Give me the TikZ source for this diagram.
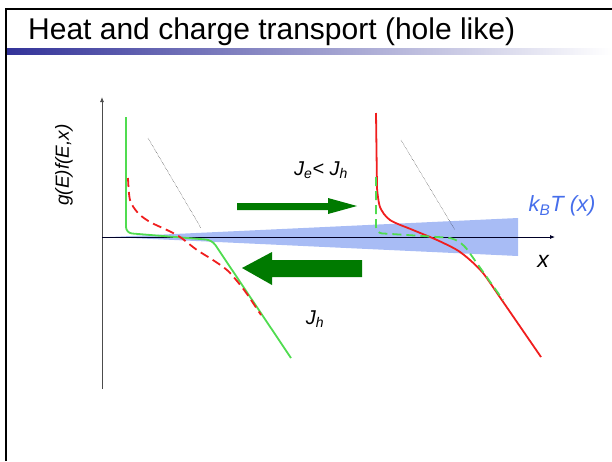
\documentclass[tikz,border=0pt]{standalone}
\usepackage{fontspec}
\setmainfont{Liberation Sans}
\usetikzlibrary{positioning, arrows.meta, calc}
\definecolor{titleblue}{RGB}{51,51,153}
\definecolor{bandblue}{RGB}{168,188,245}
\definecolor{kbblue}{RGB}{70,110,235}
\definecolor{curvegreen}{RGB}{80,220,80}
\definecolor{arrowgreen}{RGB}{0,122,0}
\definecolor{curvered}{RGB}{240,30,30}

\begin{document}
\begin{tikzpicture}[x=1pt, y=-1pt,
    lbl/.style={inner sep=0pt, font=\fontsize{20}{22}\selectfont\itshape},
    axis/.style={line width=0.8pt, -{Latex[length=5pt,width=4pt]}},
    greenline/.style={curvegreen, line width=1.8pt},
    redline/.style={curvered, line width=1.8pt},
    guide/.style={line width=0.4pt, densely dotted}]
    \useasboundingbox (0,0) rectangle (612,461);

    \draw[line width=2pt] (6,461) -- (6,9) -- (612,9);
    \shade[left color=titleblue, right color=white] (7,48) rectangle (612,54);
    \node[anchor=base west, inner sep=0pt, font=\fontsize{30}{32}\selectfont] (title) at (28,39) {Heat and charge transport (hole like)};

    \coordinate (o) at (102,237);
    \coordinate (ytop) at (102,97);
    \coordinate (ybot) at (102,389);
    \coordinate (xend) at (555,237);

    \fill[bandblue] (110,237) -- (518,218) -- (518,256) -- cycle;
    \draw[axis, black!70] (ybot) -- (ytop);
    \draw[axis, black!85!blue] (o) -- (xend);

    \node[lbl, rotate=90, font=\fontsize{19}{20}\selectfont\itshape] (ylabel) at (64,165) {g(E)f(E,x)};
    \node[lbl, font=\fontsize{23}{24}\selectfont\itshape] (xlabel) at (543,261) {x};
    \node[lbl, kbblue, font=\fontsize{22}{24}\selectfont\itshape] (kbt) at (562,206) {k\textsubscript{B}T (x)};
    \node[lbl] (jejh) at (321,170) {J\textsubscript{e}< J\textsubscript{h}};
    \node[lbl] (jh) at (315,319) {J\textsubscript{h}};

    \draw[guide] (148,138) -- (201,228);
    \draw[guide] (401,140) -- (455,230);

    \draw[greenline, rounded corners=6pt] (126,117) -- (126,233) -- (212,240) -- (291,358);
    \draw[redline, dashed, dash pattern=on 9pt off 5pt] plot[smooth] coordinates {(128,178) (130,200) (138,213) (150,222) (167,230) (180,237) (197,250) (213,260) (227,270) (237,281) (247,294) (261,315)};

    \draw[redline] (376,113) -- (377,188) plot[smooth] coordinates {(377,188) (380,207) (390,220) (413,230) (437,240) (457,250) (470,260) (483,273) (497,293)} -- (541,357);
    \draw[greenline, dashed, dash pattern=on 9pt off 5pt, rounded corners=6pt] (376,177) -- (376,233) -- (453,238) -- (464,245) -- (503,300);

    \fill[arrowgreen] (237,203) -- (328,203) -- (328,198) -- (357,206) -- (328,214) -- (328,210) -- (237,210) -- cycle;
    \fill[arrowgreen] (362,260) -- (272,260) -- (272,252) -- (242,268) -- (272,285) -- (272,277) -- (362,277) -- cycle;
\end{tikzpicture}
\end{document}
